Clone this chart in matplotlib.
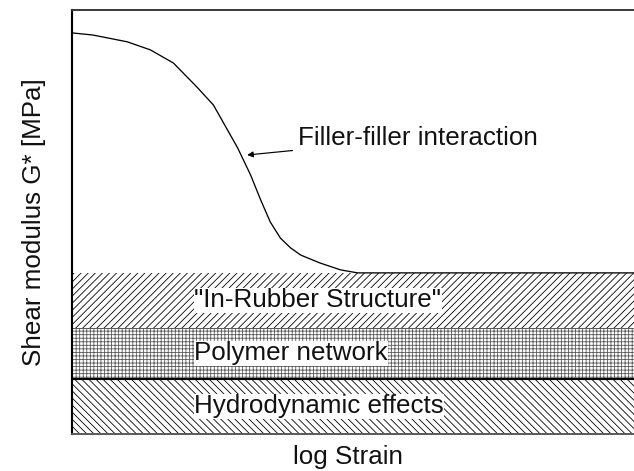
import matplotlib.pyplot as plt

# Curve: filler-filler contribution (arbitrary units)
log_strain = [0, 0.37, 0.98, 1.39, 1.80, 2.22, 2.51, 2.94, 3.17, 3.35, 3.52,
              3.70, 3.88, 4.06, 4.41, 4.77, 5.07, 10]
modulus = [9.46, 9.41, 9.25, 9.06, 8.75, 8.18, 7.76, 6.75, 6.11, 5.52, 5.00,
           4.62, 4.39, 4.22, 4.03, 3.87, 3.80, 3.80]

# Stacked contributions (bottom -> top)
band_labels = ['Hydrodynamic effects', 'Polymer network', '"In-Rubber Structure"']
band_edges = [0, 1.30, 2.50, 3.80]
band_hatches = ['\\\\\\\\', '++++', '////']
hatch_colors = ['black', '#5a5a5a', 'black']

DPI = 85
FS = 22
plt.rcParams['font.family'] = ['Liberation Sans', 'DejaVu Sans']
plt.rcParams['hatch.linewidth'] = 0.7

fig = plt.figure(figsize=(634 / DPI, 471 / DPI), dpi=DPI)
ax = fig.add_axes([72 / 634, 1 - 434 / 471, 1 - 72 / 634 + 0.002, 424 / 471])
ax.set_xlim(0, 10)
ax.set_ylim(0, 10)

for i, lab in enumerate(band_labels):
    lo, hi = band_edges[i], band_edges[i + 1]
    ax.fill_between([0, 10], lo, hi, facecolor='white',
                    edgecolor=hatch_colors[i], hatch=band_hatches[i], linewidth=0)
    ax.text(2.17, (lo + hi) / 2, lab, fontsize=FS, color='#111111',
            va='center', ha='left',
            bbox=dict(facecolor='white', edgecolor='none', pad=0.5))

ax.axhline(band_edges[1], color='black', linewidth=1.8)
ax.axhline(band_edges[2], color='#555555', linewidth=0.8)
ax.plot(log_strain, modulus, color='black', linewidth=1.1)

ax.annotate('Filler-filler interaction', xy=(3.11, 6.58), xytext=(4.02, 6.98),
            fontsize=FS, color='#111111', va='center', ha='left',
            arrowprops=dict(arrowstyle='-|>', color='black', lw=1,
                            mutation_scale=10, shrinkA=3, shrinkB=0))

ax.set_xticks([])
ax.set_yticks([])
ax.spines['right'].set_visible(False)
ax.spines['left'].set_linewidth(1.8)
ax.spines['top'].set_linewidth(1.6)
ax.spines['top'].set_color('#333333')
ax.spines['bottom'].set_linewidth(1.6)
ax.spines['bottom'].set_color('#555555')

ax.set_xlabel('log Strain', fontsize=FS, color='#111111', labelpad=7)
ax.xaxis.set_label_coords(0.49, -0.025, transform=ax.transAxes)
ax.xaxis.label.set_va('top')
ax.set_ylabel('Shear modulus G* [MPa]', fontsize=FS, color='#111111', labelpad=22)

fig.savefig('out.png', dpi=DPI)
